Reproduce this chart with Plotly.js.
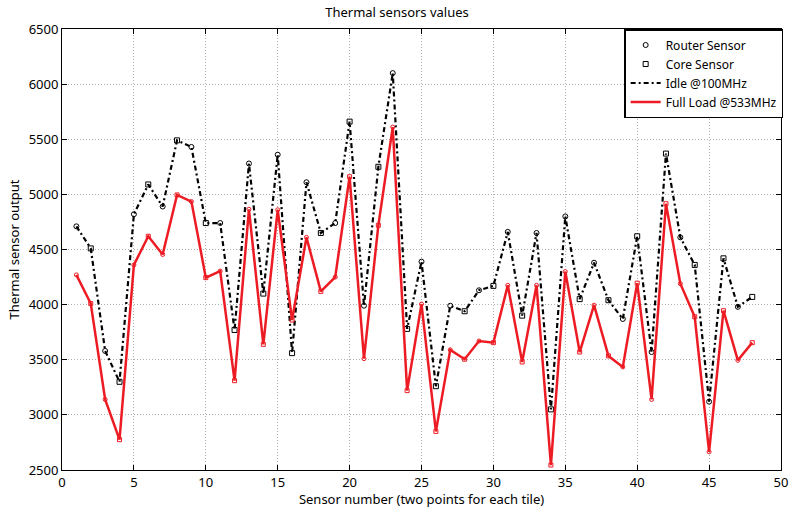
<!DOCTYPE html>
<html>
<head>
<meta charset="utf-8">
<script src="https://cdn.plot.ly/plotly-3.0.1.min.js"></script>
<style>html,body{margin:0;padding:0;background:#fff;}#chart{width:794px;height:508px;}</style>
</head>
<body>
<div id="chart"></div>
<script>
const sensors = [1,2,3,4,5,6,7,8,9,10,11,12,13,14,15,16,17,18,19,20,21,22,23,24,25,26,27,28,29,30,31,32,33,34,35,36,37,38,39,40,41,42,43,44,45,46,47,48];
const idle100 = [4710,4510,3580,3300,4820,5090,4890,5490,5430,4740,4740,3770,5280,4100,5360,3560,5110,4650,4740,5660,3990,5250,6100,3780,4390,3260,3990,3940,4130,4170,4660,3900,4650,3050,4800,4050,4380,4040,3870,4620,3570,5370,4610,4360,3120,4420,3980,4070];
const full533 = [4270,4010,3140,2775,4360,4620,4455,4995,4935,4245,4305,3310,4865,3640,4860,3860,4610,4120,4250,5160,3510,4720,5610,3220,4005,2850,3590,3505,3670,3655,4175,3480,4175,2545,4300,3570,3995,3535,3435,4195,3140,4915,4190,3890,2665,3945,3495,3655];
const xTicks = [0,5,10,15,20,25,30,35,40,45,50];
const yTicks = [2500,3000,3500,4000,4500,5000,5500,6000,6500];

const FONT = "Noto Sans, sans-serif";
const RED = "#ed1c24";

const isRouter = sensors.map(s => s % 2 === 1);
const routerX = sensors.filter((s,i) => isRouter[i]);
const coreX = sensors.filter((s,i) => !isRouter[i]);
const routerIdle = idle100.filter((v,i) => isRouter[i]);
const coreIdle = idle100.filter((v,i) => !isRouter[i]);
const redSymbols = sensors.map((s,i) => isRouter[i] ? "circle-open" : "square-open");

const traces = [
  {x: routerX, y: routerIdle, mode: "markers", name: "Router Sensor",
   marker: {symbol: "circle-open", size: 5, color: "#000", line: {width: 1, color: "#000"}}},
  {x: coreX, y: coreIdle, mode: "markers", name: "Core Sensor",
   marker: {symbol: "square-open", size: 5, color: "#000", line: {width: 1, color: "#000"}}},
  {x: sensors, y: idle100, mode: "lines", name: "Idle @100MHz",
   line: {color: "#000", width: 2.2, dash: "5px,3px,2px,3px"}},
  {x: sensors, y: full533, mode: "lines", name: "Full Load @533MHz",
   line: {color: RED, width: 2.5}},
  {x: sensors, y: full533, mode: "markers", showlegend: false, hoverinfo: "skip",
   marker: {symbol: redSymbols, size: 4, color: RED, line: {width: 1, color: RED}}}
];

const axisCommon = {
  showline: true, linecolor: "#000", linewidth: 1, mirror: "ticks",
  ticks: "inside", ticklen: 5, tickcolor: "#000", tickwidth: 1,
  showgrid: true, gridcolor: "#b0b0b0", griddash: "1px,2px", gridwidth: 1,
  zeroline: false, tickfont: {family: FONT, size: 13, color: "#000"}
};

const layout = {
  width: 794, height: 508,
  margin: {l: 62, r: 11, t: 29, b: 38},
  paper_bgcolor: "#fff", plot_bgcolor: "#fff",
  font: {family: FONT, size: 13, color: "#000"},
  title: {text: "Thermal sensors values", font: {family: FONT, size: 13, color: "#000"},
          x: 0.5, xanchor: "center", y: 0.985, yanchor: "top"},
  xaxis: Object.assign({}, axisCommon, {
    range: [0, 50], tickvals: xTicks, ticktext: xTicks.map(String),
    title: {text: "Sensor number (two points for each tile)", standoff: 2,
            font: {family: FONT, size: 13, color: "#000"}}
  }),
  yaxis: Object.assign({}, axisCommon, {
    range: [2500, 6500], tickvals: yTicks, ticktext: yTicks.map(String),
    title: {text: "Thermal sensor output", standoff: 6,
            font: {family: FONT, size: 13, color: "#000"}}
  }),
  legend: {x: 1.003, y: 1, xanchor: "right", yanchor: "top",
           bgcolor: "#fff", bordercolor: "#000", borderwidth: 1.5,
           font: {family: FONT, size: 12, color: "#000"},
           itemwidth: 30, tracegroupgap: 0},
  showlegend: true
};

Plotly.newPlot("chart", traces, layout, {displayModeBar: false, staticPlot: true});
</script>
</body>
</html>
